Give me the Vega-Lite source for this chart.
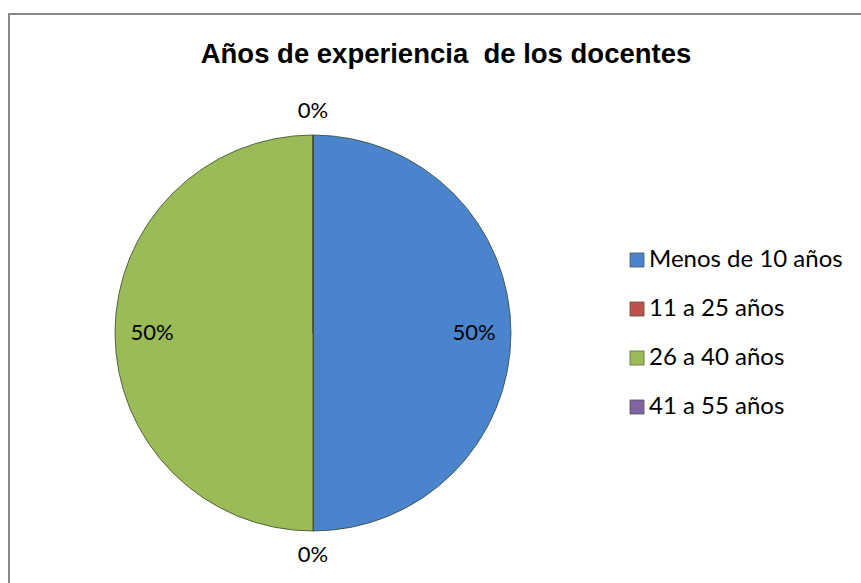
{
  "$schema": "https://vega.github.io/schema/vega-lite/v6.json",
  "autosize": {"type": "fit", "contains": "padding"},
  "width": 861,
  "height": 583,
  "padding": {"left": 9, "top": 14, "right": -6, "bottom": -6},
  "background": "white",
  "view": {"stroke": "#888888", "strokeWidth": 2, "fill": "white"},
  "config": {
    "view": {"stroke": "#888888", "strokeWidth": 2},
    "font": "Liberation Sans"
  },
  "title": {
    "text": "Años de experiencia\u00a0 de los docentes",
    "font": "Liberation Sans",
    "fontSize": 27.5,
    "fontWeight": "bold",
    "color": "#000000",
    "frame": "group",
    "anchor": "middle",
    "offset": -54,
    "dx": 8
  },
  "data": {
    "values": [
      {"rango": "Menos de 10 años", "valor": 0.5, "idx": 1},
      {"rango": "11 a 25 años", "valor": 0, "idx": 2},
      {"rango": "26 a 40 años", "valor": 0.5, "idx": 3},
      {"rango": "41 a 55 años", "valor": 0, "idx": 4}
    ]
  },
  "encoding": {
    "theta": {"field": "valor", "type": "quantitative", "stack": true},
    "order": {"field": "idx", "type": "quantitative"}
  },
  "layer": [
    {
      "mark": {"type": "arc", "radius": 198, "x": {"expr": "width*0.3543"}, "y": {"expr": "height*0.5548"}, "stroke": "#3a4a2a", "strokeWidth": 0.8},
      "encoding": {
        "color": {
          "field": "rango",
          "type": "nominal",
          "scale": {
            "domain": ["Menos de 10 años", "11 a 25 años", "26 a 40 años", "41 a 55 años"],
            "range": ["#4A84CC", "#C0504D", "#9BBB59", "#8064A2"]
          },
          "legend": {
            "title": null,
            "orient": "none",
            "legendX": 616,
            "legendY": 234,
            "symbolType": "square",
            "symbolSize": 200,
            "symbolStrokeWidth": 0.6,
            "labelFont": "Lato",
            "labelFontSize": 24,
            "labelColor": "#000000",
            "rowPadding": 25,
            "labelOffset": 0,
            "labelLimit": 300
          }
        }
      }
    },
    {
      "mark": {"type": "text", "radius": 161, "x": {"expr": "width*0.3543"}, "y": {"expr": "height*0.5548"}, "font": "Lato", "fontSize": 22, "color": "#000000"},
      "encoding": {
        "text": {"field": "valor", "type": "quantitative", "format": ".0%"},
        "opacity": {"condition": {"test": "datum.valor > 0", "value": 1}, "value": 0}
      }
    },
    {
      "mark": {"type": "text", "radius": 222, "x": {"expr": "width*0.3543"}, "y": {"expr": "height*0.5548"}, "font": "Lato", "fontSize": 22, "color": "#000000"},
      "encoding": {
        "text": {"field": "valor", "type": "quantitative", "format": ".0%"},
        "opacity": {"condition": {"test": "datum.valor == 0", "value": 1}, "value": 0}
      }
    }
  ]
}
